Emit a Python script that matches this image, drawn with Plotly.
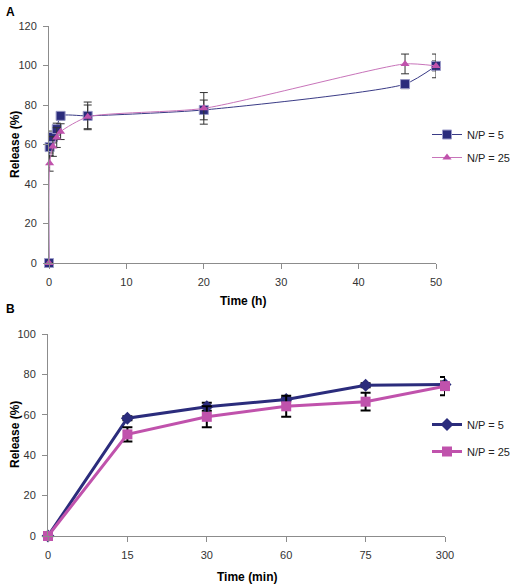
import plotly.graph_objects as go

# ---- Panel A data (time in hours) ----
a_time_5 = [0, 0.08, 0.5, 1, 1.5, 5, 20, 46, 50]
a_rel_5 = [0, 58.7, 63.8, 67.8, 74.5, 74.5, 77.5, 90.6, 99.8]
a_err_5 = [0, 3, 3, 3, 2, 7, 5, 2.3, 2.5]

a_time_25 = [0, 0.08, 0.5, 1, 1.5, 5, 20, 46, 50]
a_rel_25 = [0, 50.5, 59.0, 63.5, 66.5, 74.0, 78.3, 100.8, 99.8]
a_err_25 = [0, 4, 5, 5, 4, 6, 8, 5, 6]

# ---- Panel B data (time in min, categorical) ----
b_time = ["0", "15", "30", "60", "75", "300"]
b_rel_5 = [0, 58.3, 64.0, 67.6, 74.6, 75.0]
b_err_5 = [0, 1, 2, 1, 1, 1.5]
b_rel_25 = [0, 50.3, 59.0, 64.2, 66.5, 74.2]
b_err_25 = [0, 3.5, 5.2, 5.2, 4.4, 4.5]

NAVY = "#2B2C7C"
PINK = "#C052AC"
FONT = "Liberation Sans, Arial, sans-serif"

fig = go.Figure()

# Panel A
fig.add_trace(go.Scatter(
    x=a_time_5, y=a_rel_5, name="N/P = 5", mode="lines+markers",
    line=dict(color="#3A3B86", width=1, shape="spline", smoothing=0.6),
    marker=dict(symbol="square", size=9, color=NAVY, line=dict(color="#9B9BC8", width=1)),
    error_y=dict(type="data", array=a_err_5, color="#333333", thickness=1, width=4),
    xaxis="x", yaxis="y", legend="legend", legendgroup="a5", cliponaxis=False))
fig.add_trace(go.Scatter(
    x=a_time_25, y=a_rel_25, name="N/P = 25", mode="lines+markers",
    line=dict(color="#C874BA", width=1, shape="spline", smoothing=0.6),
    marker=dict(symbol="triangle-up", size=8, color=PINK),
    error_y=dict(type="data", array=a_err_25, color="#333333", thickness=1, width=4),
    xaxis="x", yaxis="y", legend="legend", legendgroup="a25", cliponaxis=False))

# Panel B
fig.add_trace(go.Scatter(
    x=b_time, y=b_rel_5, name="N/P = 5", mode="lines+markers",
    line=dict(color=NAVY, width=3),
    marker=dict(symbol="diamond", size=10, color=NAVY),
    error_y=dict(type="data", array=b_err_5, color="#000000", thickness=2, width=5),
    xaxis="x2", yaxis="y2", legend="legend2", legendgroup="b5", cliponaxis=False))
fig.add_trace(go.Scatter(
    x=b_time, y=b_rel_25, name="N/P = 25", mode="lines+markers",
    line=dict(color=PINK, width=3),
    marker=dict(symbol="square", size=10, color=PINK),
    error_y=dict(type="data", array=b_err_25, color="#000000", thickness=2, width=5),
    xaxis="x2", yaxis="y2", legend="legend2", legendgroup="b25", cliponaxis=False))

axis_common = dict(showgrid=False, zeroline=False, showline=True, linecolor="#8C8C8C",
                   linewidth=1, ticks="outside", tickcolor="#8C8C8C", ticklen=5,
                   automargin=False, ticklabelstandoff=4,
                   tickfont=dict(family=FONT, size=11, color="#333333"))

title_font = dict(size=12, family=FONT, color="#000")

fig.update_layout(
    width=511, height=584,
    margin=dict(l=0, r=0, t=0, b=0, autoexpand=False),
    paper_bgcolor="white", plot_bgcolor="white",
    font=dict(family=FONT, size=11, color="#222222"),
    xaxis=dict(domain=[49/511, 436/511], range=[0, 50], dtick=10, anchor="y", **axis_common),
    yaxis=dict(domain=[1-263/584, 1-26/584], range=[0, 120], dtick=20, anchor="x", **axis_common),
    xaxis2=dict(domain=[48/511, 445/511], type="category", range=[0, 5], anchor="y2", **axis_common),
    yaxis2=dict(domain=[1-536/584, 1-334/584], range=[0, 100], dtick=20, anchor="x2", **axis_common),
    legend=dict(x=427/511, y=1-120/584, xanchor="left", yanchor="top",
                font=dict(family=FONT, size=11, color="#222222"),
                bgcolor="rgba(0,0,0,0)", tracegroupgap=4, itemwidth=30),
    legend2=dict(x=427/511, y=1-410/584, xanchor="left", yanchor="top",
                 font=dict(family=FONT, size=11, color="#222222"),
                 bgcolor="rgba(0,0,0,0)", tracegroupgap=8, itemwidth=30),
    annotations=[
        dict(text="<b>A</b>", x=4/511, y=1-3/584, xref="paper", yref="paper",
             xanchor="left", yanchor="top", showarrow=False, font=title_font),
        dict(text="<b>B</b>", x=4/511, y=1-300/584, xref="paper", yref="paper",
             xanchor="left", yanchor="top", showarrow=False, font=title_font),
        dict(text="<b>Release (%)</b>", x=15/511, y=1-145/584, xref="paper", yref="paper",
             xanchor="center", yanchor="middle",
             textangle=-90, showarrow=False, font=title_font),
        dict(text="<b>Release (%)</b>", x=15/511, y=1-435/584, xref="paper", yref="paper",
             xanchor="center", yanchor="middle",
             textangle=-90, showarrow=False, font=title_font),
        dict(text="<b>Time (h)</b>", x=243/511, y=1-301/584, xref="paper", yref="paper",
             xanchor="center", yanchor="middle", showarrow=False, font=title_font),
        dict(text="<b>Time (min)</b>", x=247/511, y=1-577/584, xref="paper", yref="paper",
             xanchor="center", yanchor="middle", showarrow=False, font=title_font),
    ],
)

fig.write_html("out.html", config={"displayModeBar": False},
               post_script="document.body.style.margin='0';")
